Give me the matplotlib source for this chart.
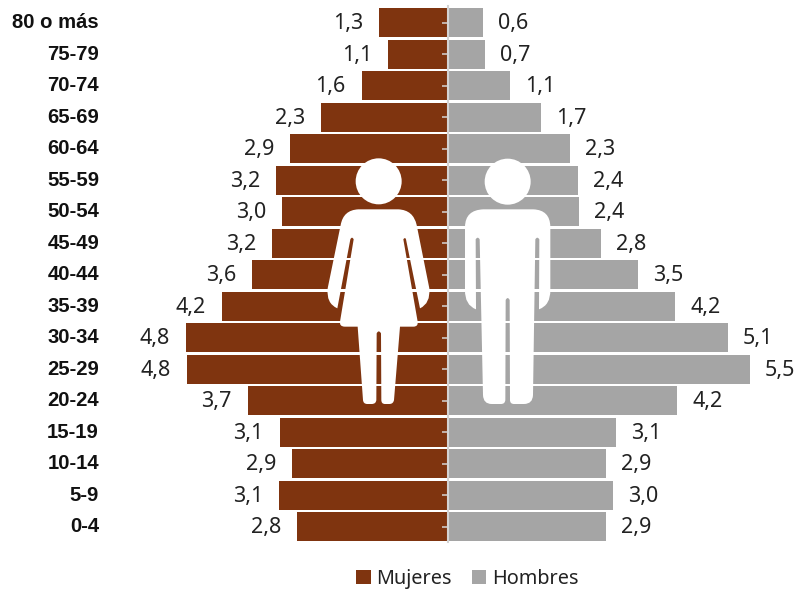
import matplotlib
matplotlib.use("Agg")
import matplotlib.pyplot as plt
from matplotlib.path import Path
from matplotlib.patches import PathPatch, Circle
from matplotlib.transforms import blended_transform_factory

ages = ["80 o más", "75-79", "70-74", "65-69", "60-64", "55-59", "50-54", "45-49", "40-44",
        "35-39", "30-34", "25-29", "20-24", "15-19", "10-14", "5-9", "0-4"]
mujeres = [1.26, 1.09, 1.58, 2.32, 2.88, 3.14, 3.03, 3.21, 3.58, 4.14, 4.79, 4.77, 3.66, 3.08, 2.85, 3.09, 2.76]
hombres = [0.64, 0.67, 1.13, 1.70, 2.23, 2.38, 2.39, 2.79, 3.47, 4.15, 5.12, 5.52, 4.19, 3.07, 2.89, 3.02, 2.89]
mujeres_txt = ["1,3", "1,1", "1,6", "2,3", "2,9", "3,2", "3,0", "3,2", "3,6", "4,2", "4,8", "4,8", "3,7", "3,1", "2,9", "3,1", "2,8"]
hombres_txt = ["0,6", "0,7", "1,1", "1,7", "2,3", "2,4", "2,4", "2,8", "3,5", "4,2", "5,1", "5,5", "4,2", "3,1", "2,9", "3,0", "2,9"]

BROWN = "#7f340f"
GREY = "#a5a5a5"
W, H = 796, 590
SCALE = 54.7
CX = 448
Y0 = 22.7

fig = plt.figure(figsize=(W / 100, H / 100), dpi=100)
ax = fig.add_axes([0, 0, 1, 1])
ax.set_xlim(-CX / SCALE, (W - CX) / SCALE)
# y: una fila cada 31.5 px, la primera centrada en Y0
ax.set_ylim((H - Y0) / 31.5, -Y0 / 31.5)
ax.patch.set_alpha(0)
ax.set_axisbelow(False)

pos = list(range(len(ages)))
b1 = ax.barh(pos, [-v for v in mujeres], height=0.92, color=BROWN, label="Mujeres", zorder=2)
b2 = ax.barh(pos, hombres, height=0.92, color=GREY, label="Hombres", zorder=2)

for s in ["top", "right", "bottom"]:
    ax.spines[s].set_visible(False)
ax.spines["left"].set_position(("data", 0))
ax.spines["left"].set_bounds(-0.52, 16.5)
ax.spines["left"].set_color("#d4d4d4")
ax.spines["left"].set_linewidth(1.5)
ax.spines["left"].set_zorder(3)
ax.set_xticks([])
ax.set_yticks(pos)
ax.set_yticklabels([])
ax.tick_params(axis="y", length=4, width=1.1, color="#d4d4d4", direction="out")

trans = blended_transform_factory(fig.transFigure, ax.transData)
for i, a in enumerate(ages):
    ax.text(99 / W, i, a, transform=trans, ha="right", va="center", fontsize=14.6,
            fontweight="bold", family="Liberation Sans", color="#111111")
for i in pos:
    ax.annotate(mujeres_txt[i], (-mujeres[i], i), xytext=(-11.5, -0.7), textcoords="offset points",
                ha="right", va="center", fontsize=15.5, family="Noto Sans", color="#222222")
    ax.annotate(hombres_txt[i], (hombres[i], i), xytext=(10.8, -0.7), textcoords="offset points",
                ha="left", va="center", fontsize=15.5, family="Noto Sans", color="#222222")

ax.legend(handles=[b1, b2], ncol=2, loc="center", bbox_to_anchor=(467.5 / W, 1 - 579 / H),
          frameon=False, prop={"family": "Noto Sans", "size": 14.3}, handlelength=0.72,
          handleheight=0.72, handletextpad=0.3, columnspacing=1.0, labelcolor="#222222")

# siluetas, en pixeles de la imagen
ov = fig.add_axes([0, 0, 1, 1])
ov.set_xlim(0, W)
ov.set_ylim(H, 0)
ov.axis("off")


def z(x, y):
    return (320 + x / 3, 150 + y / 3)


def figura(puntos):
    verts, codes = [], []
    for k, p in enumerate(puntos):
        if p[0] == "q":
            verts += [z(p[1], p[2]), z(p[3], p[4])]
            codes += [Path.CURVE3, Path.CURVE3]
        else:
            verts.append(z(*p))
            codes.append(Path.MOVETO if k == 0 else Path.LINETO)
    verts.append(verts[0])
    codes.append(Path.CLOSEPOLY)
    ov.add_patch(PathPatch(Path(verts, codes), fc="white", ec="none", joinstyle="round"))


mujer = [(115, 178), (235, 178), ("q", 280, 180, 290, 225), (328, 415), ("q", 332, 460, 300, 475),
         (258, 268), ("q", 255, 260, 250, 268), (293, 515), ("q", 295, 530, 280, 530), (240, 530),
         (222, 750), ("q", 220, 762, 208, 762), (195, 762), ("q", 184, 762, 184, 750), (183, 550),
         ("q", 176, 538, 170, 550), (169, 750), ("q", 168, 762, 155, 762), (142, 762),
         ("q", 130, 762, 129, 750), (113, 530), (75, 530), ("q", 58, 530, 60, 515), (101, 268),
         ("q", 96, 258, 91, 268), (52, 475), ("q", 18, 460, 23, 415), (62, 225), ("q", 70, 180, 115, 178)]
hombre = [(490, 178), (640, 178), ("q", 690, 180, 691, 230), (691, 420), ("q", 692, 465, 657, 478),
          (658, 268), ("q", 652, 258, 646, 268), (639, 735), ("q", 638, 762, 612, 762), (582, 762),
          ("q", 570, 762, 570, 750), (569, 450), ("q", 563, 438, 557, 450), (556, 750),
          ("q", 555, 762, 543, 762), (515, 762), ("q", 490, 762, 489, 735), (479, 268),
          ("q", 473, 258, 467, 268), (468, 478), ("q", 434, 465, 435, 420), (435, 230), ("q", 436, 180, 490, 178)]
figura(mujer)
figura(hombre)
ov.add_patch(Circle(z(176, 94), 23, fc="white", ec="none"))
ov.add_patch(Circle(z(563, 95), 23, fc="white", ec="none"))

fig.savefig("out.png", dpi=100)
